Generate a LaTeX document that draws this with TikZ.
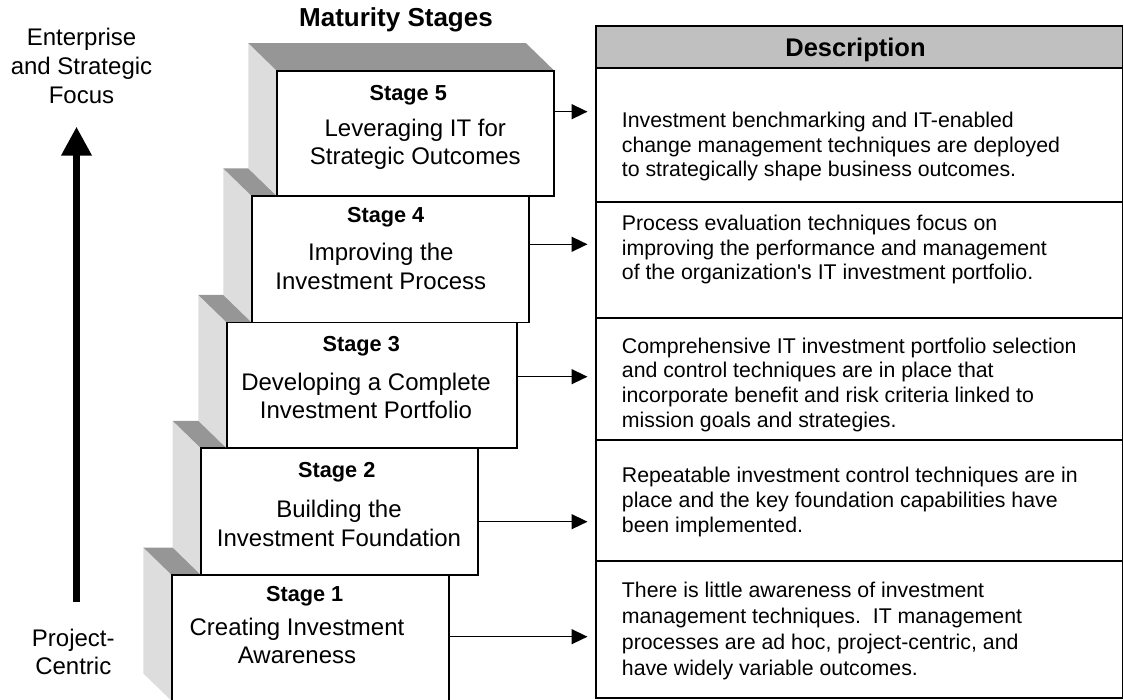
\documentclass[tikz,border=0pt]{standalone}
\usepackage{fontspec}
\setmainfont{Liberation Sans}
\usetikzlibrary{arrows.meta}
\definecolor{topface}{RGB}{150,150,150}
\definecolor{sideface}{RGB}{221,221,221}
\definecolor{headfill}{RGB}{192,192,192}
\begin{document}
\begin{tikzpicture}[x=1pt,y=-1pt,
  stagebox/.style={draw=black, line width=1.8pt, fill=white, inner sep=0pt, outer sep=0pt},
  topf/.style={fill=topface},
  sidef/.style={fill=sideface},
  cell/.style={draw=black, line width=1.8pt, inner sep=0pt, outer sep=0pt, minimum width=526.5pt},
  stitle/.style={font=\fontsize{21.7}{26}\selectfont\bfseries, inner sep=0pt, anchor=base},
  ssub/.style={font=\fontsize{24}{28.3}\selectfont, align=center, inner sep=0pt, anchor=base},
  desc/.style={font=\fontsize{21.3}{24.8}\selectfont, align=left, inner sep=0pt, anchor=base west},
  lbl/.style={font=\fontsize{24}{29}\selectfont, align=center, inner sep=0pt, anchor=base},
  hdr/.style={font=\fontsize{25.5}{30}\selectfont\bfseries, inner sep=0pt, anchor=base},
  conn/.style={line width=1.5pt, -{Triangle[length=16pt,width=15pt]}, shorten >=8.5pt},
  bigarrow/.style={line width=7pt, -{Triangle[length=29pt,width=29pt]}},
]
\useasboundingbox (0,0) rectangle (1124,700);

% ---- Stage 1 ----
\path[sidef] (143.4,547.5) -- (171.7,575) -- (171.7,701) -- (143.4,673.5) -- cycle;
\path[topf] (143.4,547.5) -- (421,547.5) -- (449.3,575) -- (171.7,575) -- cycle;
\node[stagebox, minimum width=277.6pt, minimum height=126pt] (s1) at (310.5,638) {};
% ---- Stage 2 ----
\path[sidef] (172.7,420.8) -- (201,448.3) -- (201,575) -- (172.7,547.5) -- cycle;
\path[topf] (172.7,420.8) -- (449.4,420.8) -- (477.7,448.3) -- (201,448.3) -- cycle;
\node[stagebox, minimum width=276.7pt, minimum height=126.7pt] (s2) at (339.35,511.65) {};
% ---- Stage 3 ----
\path[sidef] (198.4,295) -- (226.7,322.5) -- (226.7,448.3) -- (198.4,420.8) -- cycle;
\path[topf] (198.4,295) -- (488.4,295) -- (516.7,322.5) -- (226.7,322.5) -- cycle;
\node[stagebox, minimum width=290pt, minimum height=125.8pt] (s3) at (371.7,385.4) {};
% ---- Stage 4 ----
\path[sidef] (223.4,168.5) -- (251.7,196) -- (251.7,322.5) -- (223.4,295) -- cycle;
\path[topf] (223.4,168.5) -- (500.7,168.5) -- (529,196) -- (251.7,196) -- cycle;
\node[stagebox, minimum width=277.3pt, minimum height=126.5pt] (s4) at (390.35,259.25) {};
% ---- Stage 5 ----
\path[sidef] (248.4,43.2) -- (276.7,70.7) -- (276.7,196) -- (248.4,168.5) -- cycle;
\path[topf] (248.4,43.2) -- (526,43.2) -- (554.3,70.7) -- (276.7,70.7) -- cycle;
\node[stagebox, minimum width=277.6pt, minimum height=125.3pt] (s5) at (415.5,133.35) {};

% ---- stage texts (base = baseline of last line) ----
\node[stitle] (t5) at (408.3,101) {Stage 5};
\node[ssub] (u5) at (415.3,165) {Leveraging IT for\\Strategic Outcomes};
\node[stitle] (t4) at (385.7,222.7) {Stage 4};
\node[ssub] (u4) at (380.8,289.3) {Improving the\\Investment Process};
\node[stitle] (t3) at (361.3,351.7) {Stage 3};
\node[ssub] (u3) at (366,418.3) {Developing a Complete\\Investment Portfolio};
\node[stitle] (t2) at (336.8,477.7) {Stage 2};
\node[ssub] (u2) at (339,546) {Building the\\Investment Foundation};
\node[stitle] (t1) at (304.7,601.7) {Stage 1};
\node[ssub] (u1) at (297,663.3) {Creating Investment\\Awareness};

% ---- table ----
\node[cell, fill=headfill, minimum height=42.3pt] (hd) at (859.25,47.15) {};
\node[cell, minimum height=133.4pt] (r5) at (859.25,135) {};
\node[cell, minimum height=116pt] (r4) at (859.25,259.7) {};
\node[cell, minimum height=122.3pt] (r3) at (859.25,378.85) {};
\node[cell, minimum height=121pt] (r2) at (859.25,500.5) {};
\node[cell, minimum height=137.3pt] (r1) at (859.25,629.65) {};

\node[hdr] (dh) at (855.5,56.7) {Description};
\node[hdr, font=\fontsize{26}{30}\selectfont\bfseries] (mat) at (396,27) {Maturity Stages};

\node[desc] (d5) at (621.7,177) {Investment benchmarking and IT-enabled\\change management techniques are deployed\\to strategically shape business outcomes.};
\node[desc] (d4) at (621.7,280) {Process evaluation techniques focus on\\improving the performance and management\\of the organization\textquotesingle s IT investment portfolio.};
\node[desc] (d3) at (621.7,427.5) {Comprehensive IT investment portfolio selection\\and control techniques are in place that\\incorporate benefit and risk criteria linked to\\mission goals and strategies.};
\node[desc] (d2) at (621.7,532) {Repeatable investment control techniques are in\\place and the key foundation capabilities have\\been implemented.};
\node[desc, font=\fontsize{21.3}{25.7}\selectfont] (d1) at (621.7,675) {There is little awareness of investment\\management techniques.\ \ IT management\\processes are ad hoc, project-centric, and\\have widely variable outcomes.};

% ---- connectors ----
\coordinate (a5) at ([yshift=21.65pt]s5.east);
\coordinate (a4) at ([yshift=14.95pt]s4.east);
\coordinate (a3) at ([yshift=8.7pt]s3.east);
\coordinate (a2) at ([yshift=-10.05pt]s2.east);
\coordinate (a1) at ([yshift=1.3pt]s1.east);
\draw[conn] (a5) -- (a5 -| r5.west);
\draw[conn] (a4) -- (a4 -| r4.west);
\draw[conn] (a3) -- (a3 -| r3.west);
\draw[conn] (a2) -- (a2 -| r2.west);
\draw[conn] (a1) -- (a1 -| r1.west);

% ---- left axis ----
\node[lbl] (ent) at (81.5,103.3) {Enterprise\\and Strategic\\Focus};
\node[lbl, font=\fontsize{24}{28}\selectfont] (proj) at (73.3,674) {Project-\\Centric};
\coordinate (lo) at (76.5,601.7);
\coordinate (hi) at (76.5,126.7);
\draw[bigarrow] (lo) -- (hi);
\end{tikzpicture}
\end{document}
